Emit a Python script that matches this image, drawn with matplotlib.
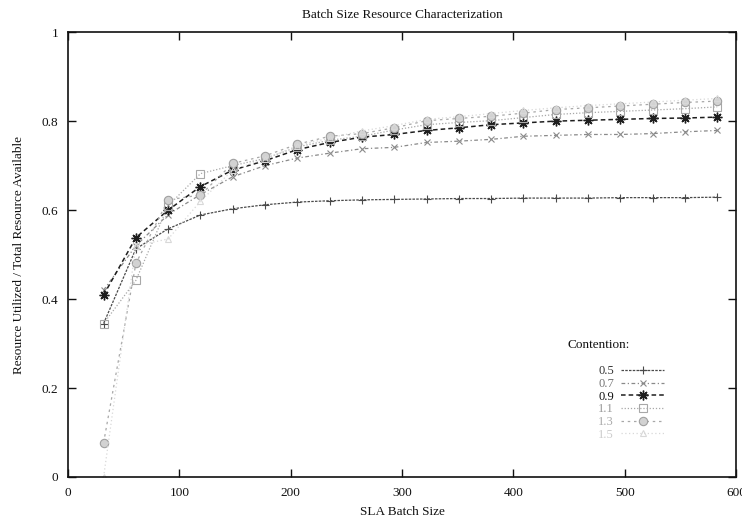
import matplotlib
matplotlib.use("Agg")
import matplotlib.pyplot as plt

batch = [32, 61, 90, 119, 148, 177, 206, 235, 264, 293, 322, 351, 380, 409, 438, 467, 496, 525, 554, 583]
c05 = [0.345, 0.513, 0.558, 0.589, 0.603, 0.612, 0.618, 0.621, 0.623, 0.624, 0.625, 0.626, 0.626, 0.627, 0.627, 0.627, 0.628, 0.628, 0.628, 0.629]
c07 = [0.420, 0.520, 0.590, 0.635, 0.675, 0.700, 0.717, 0.728, 0.738, 0.741, 0.752, 0.755, 0.759, 0.766, 0.768, 0.770, 0.770, 0.772, 0.776, 0.779]
c09 = [0.409, 0.538, 0.600, 0.653, 0.690, 0.711, 0.736, 0.752, 0.764, 0.770, 0.779, 0.785, 0.792, 0.796, 0.800, 0.802, 0.804, 0.806, 0.807, 0.809]
c11 = [0.345, 0.442, 0.610, 0.682, 0.700, 0.716, 0.742, 0.757, 0.766, 0.780, 0.792, 0.797, 0.801, 0.808, 0.815, 0.819, 0.822, 0.825, 0.828, 0.832]
c13 = [0.077, 0.480, 0.623, 0.634, 0.705, 0.722, 0.748, 0.766, 0.772, 0.785, 0.801, 0.806, 0.811, 0.818, 0.826, 0.830, 0.834, 0.838, 0.842, 0.845]
c15 = [0.000, 0.520, 0.535, 0.620, 0.690, 0.715, 0.745, 0.762, 0.778, 0.790, 0.804, 0.810, 0.817, 0.824, 0.830, 0.835, 0.839, 0.843, 0.847, 0.851]
labels = ["0.5", "0.7", "0.9", "1.1", "1.3", "1.5"]
x_ticks = [0, 100, 200, 300, 400, 500, 600]
y_ticks = [0, 0.2, 0.4, 0.6, 0.8, 1]
y_tick_labels = ["0", "0.2", "0.4", "0.6", "0.8", "1"]

plt.rcParams['font.family'] = ['Liberation Serif', 'DejaVu Serif']

fig = plt.figure(figsize=(7.42, 5.19), dpi=100)
ax = fig.add_axes([0.0916, 0.081, 0.9004, 0.857])

styles = [
    dict(color='#4a4a4a', ls=(0, (2, 1)), lw=0.9, marker='+', ms=6, mew=0.8, mfc='none'),
    dict(color='#8a8a8a', ls=(0, (3, 2, 1, 2)), lw=0.9, marker='x', ms=5, mew=0.8, mfc='none'),
    dict(color='#1e1e1e', ls=(0, (3, 2)), lw=1.1, marker=(8, 2, 0), ms=7, mew=1.0, mfc='none'),
    dict(color='#a8a8a8', ls=(0, (1, 1.5)), lw=0.9, marker='s', ms=6, mew=0.8, mfc='none'),
    dict(color='#a8a8a8', ls=(0, (2, 3)), lw=0.9, marker='o', ms=6, mew=0.8, mfc='#d2d2d2', mec='#a0a0a0'),
    dict(color='#d8d8d8', ls=(0, (1, 2)), lw=0.9, marker='^', ms=5, mew=0.8, mfc='none'),
]
series = [c05, c07, c09, c11, c13, c15]
handles = []
for vals, lab, st in zip(series, labels, styles):
    h, = ax.plot(batch, vals, label=lab, **st)
    handles.append(h)

ax.set_xlim(0, 600)
ax.set_ylim(0, 1)
ax.set_xticks(x_ticks)
ax.set_xticklabels([str(t) for t in x_ticks])
ax.set_yticks(y_ticks)
ax.set_yticklabels(y_tick_labels)
ax.tick_params(direction='in', top=True, right=True, length=6, width=1.0, labelsize=9.5, pad=7, colors='#111')
for sp in ax.spines.values():
    sp.set_linewidth(1.2)
    sp.set_color('#111')

ax.set_title("Batch Size Resource Characterization", fontsize=9.5, pad=10, color='#111')
ax.set_xlabel("SLA Batch Size", fontsize=9.5, labelpad=5, color='#111')
ax.set_ylabel("Resource Utilized / Total Resource Available", fontsize=9.5, labelpad=12, color='#111')

ax.text(0.748, 0.297, "Contention:", transform=ax.transAxes, fontsize=9.5, ha='left', va='center', color='#111')
leg = ax.legend(handles=handles, loc='upper left', bbox_to_anchor=(0.786, 0.262),
                frameon=False, markerfirst=False, fontsize=9, handlelength=3.4,
                labelspacing=0.05, handletextpad=0.6, borderaxespad=0)
cols = ['#333', '#777', '#111', '#999', '#aaa', '#ccc']
for t, c in zip(leg.get_texts(), cols):
    t.set_color(c)

fig.savefig("out.png", dpi=100)
